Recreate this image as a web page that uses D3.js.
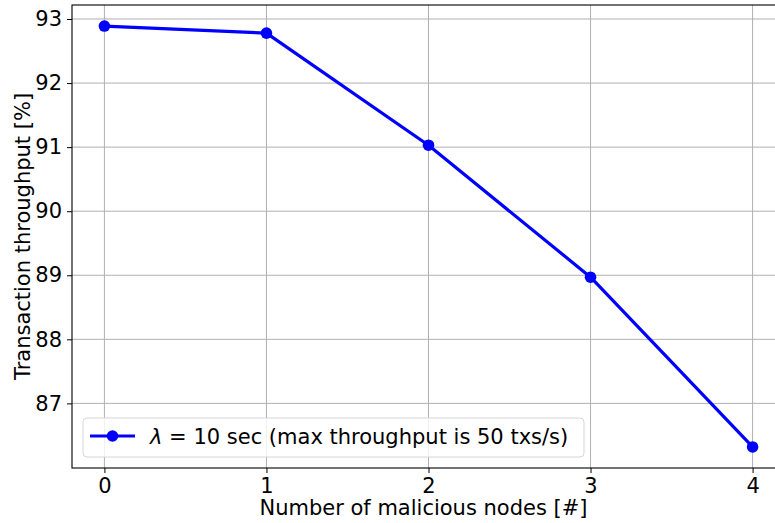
<!DOCTYPE html>
<html>
<head>
<meta charset="utf-8">
<script src="https://cdn.jsdelivr.net/npm/d3@7"></script>
<style>
  html, body { margin: 0; padding: 0; background: #fff; overflow: hidden; }
  svg { display: block; font-family: "DejaVu Sans", sans-serif; }
</style>
</head>
<body>
<svg id="chart" width="775" height="523"></svg>
<script>
// Throughput vs. number of malicious nodes
const maliciousNodes = [0, 1, 2, 3, 4];
const throughput = [92.89, 92.78, 91.03, 88.97, 86.32];
const xTicks = [0, 1, 2, 3, 4];
const yTicks = [87, 88, 89, 90, 91, 92, 93];
const seriesLabel = " = 10 sec (max throughput is 50 txs/s)";

const svg = d3.select("#chart");
const plot = { left: 72, top: 5, right: 785, bottom: 468 };
const fontSize = 21;

// matplotlib-style 5% margins on the data range
const xPad = (d3.max(maliciousNodes) - d3.min(maliciousNodes)) * 0.05;
const yMin = d3.min(throughput), yMax = d3.max(throughput);
const yPad = (yMax - yMin) * 0.05;

const x = d3.scaleLinear()
  .domain([d3.min(maliciousNodes) - xPad, d3.max(maliciousNodes) + xPad])
  .range([plot.left, plot.right]);
const y = d3.scaleLinear()
  .domain([yMin - yPad, yMax + yPad])
  .range([plot.bottom, plot.top]);

// grid
const grid = svg.append("g").attr("stroke", "#b0b0b0").attr("stroke-width", 1);
grid.selectAll("line.v").data(xTicks).join("line")
  .attr("x1", d => x(d)).attr("x2", d => x(d))
  .attr("y1", plot.top).attr("y2", plot.bottom);
grid.selectAll("line.h").data(yTicks).join("line")
  .attr("x1", plot.left).attr("x2", plot.right)
  .attr("y1", d => y(d)).attr("y2", d => y(d));

// axes
const xAxis = svg.append("g")
  .attr("transform", `translate(0,${plot.bottom})`)
  .call(d3.axisBottom(x).tickValues(xTicks).tickFormat(d3.format("d")).tickSize(5).tickPadding(5));
const yAxis = svg.append("g")
  .attr("transform", `translate(${plot.left},0)`)
  .call(d3.axisLeft(y).tickValues(yTicks).tickFormat(d3.format("d")).tickSize(5).tickPadding(5));
[xAxis, yAxis].forEach(g => {
  g.select(".domain").remove();
  g.selectAll(".tick line").attr("stroke", "#000").attr("stroke-width", 1);
  g.selectAll(".tick text").attr("fill", "#000")
    .style("font-size", fontSize + "px").style("font-family", "DejaVu Sans");
});

// frame
svg.append("rect")
  .attr("x", plot.left).attr("y", plot.top)
  .attr("width", plot.right - plot.left).attr("height", plot.bottom - plot.top)
  .attr("fill", "none").attr("stroke", "#000").attr("stroke-width", 1.1);

// series
const pts = maliciousNodes.map((d, i) => [d, throughput[i]]);
svg.append("path")
  .datum(pts)
  .attr("fill", "none").attr("stroke", "#0000ff").attr("stroke-width", 3.2)
  .attr("stroke-linejoin", "round")
  .attr("d", d3.line().x(d => x(d[0])).y(d => y(d[1])));
svg.append("g").selectAll("circle").data(pts).join("circle")
  .attr("cx", d => x(d[0])).attr("cy", d => y(d[1])).attr("r", 5.8)
  .attr("fill", "#0000ff");

// axis labels
svg.append("text")
  .attr("x", (plot.left + plot.right) / 2 - 5).attr("y", 515)
  .attr("text-anchor", "middle").style("font-size", fontSize + "px")
  .text("Number of malicious nodes [#]");
svg.append("text")
  .attr("transform", `translate(30,${(plot.top + plot.bottom) / 2}) rotate(-90)`)
  .attr("text-anchor", "middle").style("font-size", fontSize + "px")
  .text("Transaction throughput [%]");

// legend
const lg = svg.append("g");
lg.append("rect")
  .attr("x", 83).attr("y", 418).attr("width", 501).attr("height", 39)
  .attr("rx", 4).attr("fill", "#fff").attr("fill-opacity", 0.8)
  .attr("stroke", "#d6d6d6").attr("stroke-width", 1);
lg.append("line")
  .attr("x1", 90).attr("x2", 135).attr("y1", 436).attr("y2", 436)
  .attr("stroke", "#0000ff").attr("stroke-width", 3.2);
lg.append("circle").attr("cx", 112.5).attr("cy", 436).attr("r", 5.8).attr("fill", "#0000ff");
const lt = lg.append("text").attr("x", 150).attr("y", 443.5).style("font-size", fontSize + "px");
lt.append("tspan").style("font-style", "italic").text("λ");
lt.append("tspan").text(seriesLabel);
</script>
</body>
</html>
